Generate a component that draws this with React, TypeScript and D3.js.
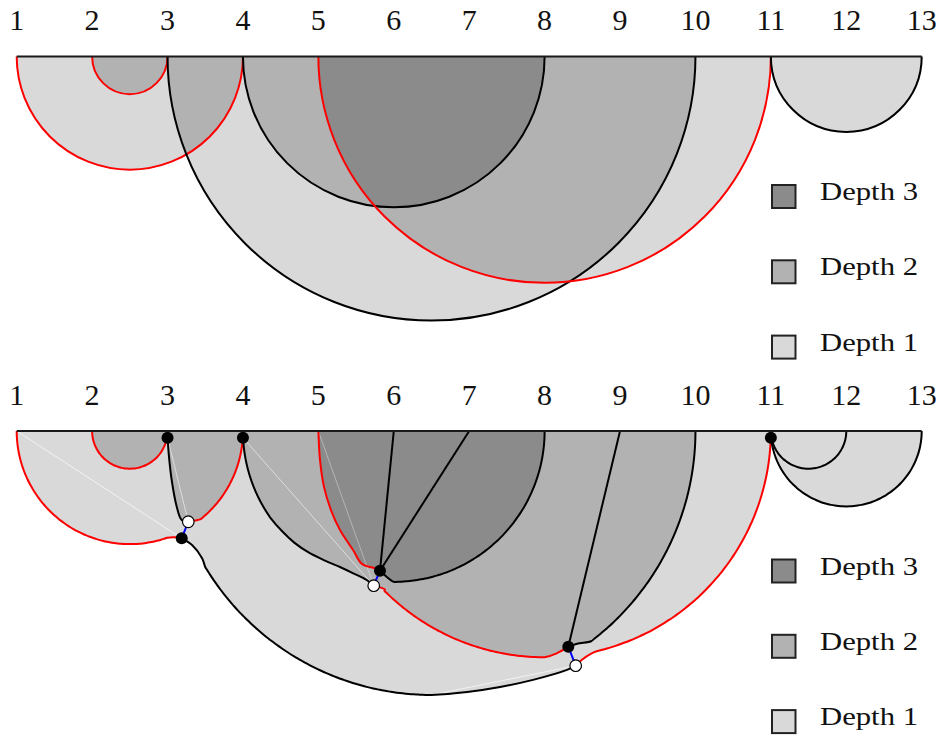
import React from 'react';
import * as d3 from 'd3';

type P = [number, number];
type Arc = { c: number; r: number; a0: number; a1: number };
type Piece = P[] | Arc;

const W = 943;
const H = 735;

// axis ticks
const tickValues = [1, 2, 3, 4, 5, 6, 7, 8, 9, 10, 11, 12, 13];
const tickLabels = tickValues.map(String);

// top panel: arcs over intervals [start, end] and their outline colour
const intervalStarts = [1, 2, 3, 4, 5, 11];
const intervalEnds = [4, 3, 10, 8, 11, 13];
const intervalStroke = ['#ff0000', '#ff0000', '#000000', '#000000', '#ff0000', '#000000'];

// legend
const legendLabels = ['Depth 3', 'Depth 2', 'Depth 1'];
const legendDepths = [3, 2, 1];
const depthFill: Record<number, string> = { 1: '#d9d9d9', 2: '#b2b2b2', 3: '#8b8b8b' };

// bottom panel (x in axis units, second value = depth below the baseline in axis units)
const blackDots: P[] = [[3, 0.09], [4, 0.09], [11, 0.09], [3.188, 1.423], [5.817, 1.852], [8.314, 2.86]];
const whiteDots: P[] = [[3.275, 1.203], [5.734, 2.051], [8.412, 3.112]];

const redOuterLeft: Piece[] = [{ c: 2.5, r: 1.5, a0: 180, a1: 70.7 }, [[3.1, 1.41], [3.188, 1.423]]];
const blackOuter: Piece[] = [
  [[3.188, 1.423], [3.325, 1.512], [3.46, 1.69]],
  { c: 6.5, r: 3.5, a0: 149, a1: 90 },
  [[6.973, 3.46], [7.41, 3.394], [7.846, 3.3], [8.297, 3.168], [8.412, 3.112]],
];
const redOuterRight: Piece[] = [[[8.412, 3.112], [8.491, 3.036], [8.624, 2.948]], { c: 8, r: 3, a0: 76.5, a1: 2 }, [[11, 0.09]]];
const red23: Piece[] = [{ c: 2.5, r: 0.5, a0: 180, a1: 18.8 }, [[3, 0.09]]];
const black3: Piece[] = [[[3, 0.09], [3.02, 0.35], [3.055, 0.65], [3.122, 1.004], [3.188, 1.18], [3.275, 1.203]]];
const red14Inner: Piece[] = [[[3.275, 1.203]], { c: 2.5, r: 1.5, a0: 51.2, a1: 3.4 }, [[4, 0.09]]];
const black4: Piece[] = [
  [[4, 0.09]],
  { c: 6, r: 2, a0: 177.4, a1: 145 },
  [[4.52, 1.33], [4.68, 1.48], [4.87, 1.61], [5.08, 1.715], [5.3, 1.81], [5.463, 1.887], [5.641, 1.976], [5.734, 2.051]],
];
const red5: Piece[] = [[[5, 0], [5.022, 0.385], [5.075, 0.743], [5.167, 1.048], [5.287, 1.313], [5.46, 1.578], [5.579, 1.764], [5.738, 1.817], [5.817, 1.852]]];
const black48: Piece[] = [{ c: 6, r: 2, a0: 0, a1: 90 }, [[5.817, 1.852]]];
const red511Mid: Piece[] = [[[5.734, 2.051], [5.883, 2.101]], { c: 8, r: 3, a0: 135.1, a1: 90 }, [[8.16, 2.948], [8.314, 2.86]]];
const black310: Piece[] = [{ c: 6.5, r: 3.5, a0: 0, a1: 52.8 }, [[8.43, 2.82], [8.314, 2.86]]];
const black1113: Piece[] = [[[11, 0.09]], { c: 12, r: 1, a0: 174.3, a1: 0 }];
const black1112: Piece[] = [[[11, 0.09]], { c: 11.5, r: 0.5, a0: 169.6, a1: 0 }];
const spokes: P[][] = [[[5.817, 1.852], [6, 0]], [[5.817, 1.852], [7, 0]], [[8.314, 2.86], [9, 0]]];
const blueLinks: P[][] = [
  [[3.275, 1.203], [3.188, 1.423]], [[5.734, 2.051], [5.817, 1.852]], [[8.412, 3.112], [8.314, 2.86]],
  [[3, 0], [3, 0.09]], [[4, 0], [4, 0.09]], [[11, 0], [11, 0.09]],
];
const whiteLinks: P[][] = [
  [[1, 0], [3.188, 1.423]], [[3, 0.09], [3.275, 1.203]], [[4, 0.09], [5.734, 2.051]],
  [[5, 0], [5.734, 2.051]], [[6.5, 3.5], [8.412, 3.112]],
];
const whiteLinkOpacity = [0.85, 0.7, 0.7, 0.45, 0.8];

function expand(pieces: Piece[]): P[] {
  const out: P[] = [];
  pieces.forEach((p) => {
    if (Array.isArray(p)) {
      p.forEach((q) => out.push(q));
    } else {
      const n = 60;
      for (let i = 0; i <= n; i++) {
        const a = ((p.a0 + ((p.a1 - p.a0) * i) / n) * Math.PI) / 180;
        out.push([p.c + p.r * Math.cos(a), p.r * Math.sin(a)]);
      }
    }
  });
  return out;
}

const x = d3.scaleLinear().domain([1, 13]).range([16.7, 921.7]);
const unit = x(2) - x(1);
const serif = "'Liberation Serif', 'Times New Roman', Times, serif";

function Panel({ base, id, bottom }: { base: number; id: string; bottom: boolean }) {
  const y = d3.scaleLinear().domain([0, 1]).range([base, base + unit]);
  const line = d3.line<P>().x((d) => x(d[0])).y((d) => y(d[1]));
  const curve = d3.line<P>().x((d) => x(d[0])).y((d) => y(d[1])).curve(d3.curveCatmullRom.alpha(0.5));
  const area = (pts: P[]) => (line(pts) || '') + 'Z';

  const semi = (i: number, close: boolean) => {
    const a = intervalStarts[i];
    const b = intervalEnds[i];
    const p = d3.path();
    p.moveTo(x(a), base);
    p.arc(x((a + b) / 2), base, ((b - a) / 2) * unit, Math.PI, 0, true);
    if (close) p.closePath();
    return p.toString();
  };

  const n = intervalStarts.length;
  const subsets: number[][] = [];
  for (let m = 1; m < 1 << n; m++) {
    const s: number[] = [];
    for (let i = 0; i < n; i++) if (m & (1 << i)) s.push(i);
    subsets.push(s);
  }
  subsets.sort((a, b) => a.length - b.length);

  const nest = (s: number[], k: number, fill: string): React.ReactNode => {
    if (k === s.length - 1) return <path d={semi(s[k], true)} fill={fill} stroke="none" />;
    return <g clipPath={`url(#${id}-c${s[k]})`}>{nest(s, k + 1, fill)}</g>;
  };

  const legendTop = base + 128.5;

  return (
    <g>
      {tickValues.map((t, i) => (
        <text key={t} x={x(t)} y={base - 26.5} textAnchor="middle" fontFamily={serif} fontSize={30} fill="#111">
          {tickLabels[i]}
        </text>
      ))}
      {!bottom && (
        <g>
          <defs>
            {intervalStarts.map((_, i) => (
              <clipPath key={i} id={`${id}-c${i}`}>
                <path d={semi(i, true)} />
              </clipPath>
            ))}
          </defs>
          {subsets.map((s) => (
            <g key={s.join('-')}>{nest(s, 0, depthFill[Math.min(3, s.length)])}</g>
          ))}
          {intervalStarts.map((_, i) => (
            <path key={i} d={semi(i, false)} fill="none" stroke={intervalStroke[i]} strokeWidth={2} />
          ))}
        </g>
      )}
      {bottom && (
        <g>
          <path d={area([[1, 0], ...expand(redOuterLeft), ...expand(blackOuter), ...expand(redOuterRight), [11, 0]])} fill={depthFill[1]} />
          <path d={area([[11, 0], ...expand(black1113)])} fill={depthFill[1]} />
          <path d={area([[2, 0], ...expand(red23), [3, 0]])} fill={depthFill[2]} />
          <path d={area([[3, 0], ...expand(black3), ...expand(red14Inner), [4, 0]])} fill={depthFill[2]} />
          <path d={area([[4, 0], ...expand(black4), [5.817, 1.852], ...expand(red5).reverse()])} fill={depthFill[2]} />
          <path d={area([...expand(red5), ...expand(black48).reverse()])} fill={depthFill[3]} />
          <path
            d={area([[8, 0], ...expand(black310), ...expand(red511Mid).reverse(), [5.817, 1.852], ...expand([{ c: 6, r: 2, a0: 90, a1: 0 }])])}
            fill={depthFill[2]}
          />
          {whiteLinks.map((l, i) => (
            <path key={i} d={line(l) || ''} fill="none" stroke="#ffffff" strokeWidth={0.8} strokeOpacity={whiteLinkOpacity[i]} />
          ))}
          {[redOuterLeft, red23, red14Inner, red5, red511Mid, redOuterRight].map((pc, i) => (
            <path key={i} d={curve(expand(pc)) || ''} fill="none" stroke="#ff0000" strokeWidth={2} strokeLinejoin="round" />
          ))}
          {[blackOuter, black3, black4, black48, black310, black1113, black1112].map((pc, i) => (
            <path key={i} d={curve(expand(pc)) || ''} fill="none" stroke="#000" strokeWidth={2} strokeLinejoin="round" />
          ))}
          {spokes.map((l, i) => (
            <path key={i} d={line(l) || ''} fill="none" stroke="#000" strokeWidth={2} />
          ))}
          {blueLinks.map((l, i) => (
            <path key={i} d={line(l) || ''} fill="none" stroke="#0000ff" strokeWidth={2} />
          ))}
          {blackDots.map((d, i) => (
            <circle key={i} cx={x(d[0])} cy={y(d[1])} r={6} fill="#000" />
          ))}
          {whiteDots.map((d, i) => (
            <circle key={i} cx={x(d[0])} cy={y(d[1])} r={5.8} fill="#fff" stroke="#000" strokeWidth={1.2} />
          ))}
        </g>
      )}
      <line x1={x(1)} x2={x(13)} y1={base} y2={base} stroke="#1a1a1a" strokeWidth={2} />
      {legendLabels.map((lab, i) => (
        <g key={lab}>
          <rect x={772} y={legendTop + i * 75.3} width={23.5} height={23} fill={depthFill[legendDepths[i]]} stroke="#222" strokeWidth={2} />
          <text
            x={820}
            y={legendTop + i * 75.3 + 15}
            fontFamily={serif}
            fontSize={25}
            fill="#111"
            textLength={98}
            lengthAdjust="spacingAndGlyphs"
          >
            {lab}
          </text>
        </g>
      ))}
    </g>
  );
}

export default function App() {
  return (
    <svg width={W} height={H} style={{ display: 'block', position: 'absolute', left: 0, top: 0 }} xmlns="http://www.w3.org/2000/svg">
      <rect x={0} y={0} width={W} height={H} fill="#fff" />
      <Panel base={56.5} id="top" bottom={false} />
      <Panel base={431} id="bot" bottom={true} />
    </svg>
  );
}
